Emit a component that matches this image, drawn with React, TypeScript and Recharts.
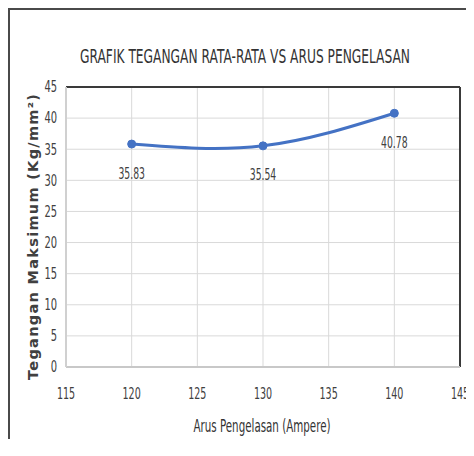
import React from 'react';
import { LineChart, Line, XAxis, YAxis, CartesianGrid, ReferenceLine, LabelList, Label } from 'recharts';

const arusPengelasan = [120, 130, 140];
const teganganMaksimum = [35.83, 35.54, 40.78];
const xTicks = [115, 120, 125, 130, 135, 140, 145];
const yTicks = [0, 5, 10, 15, 20, 25, 30, 35, 40, 45];
const chartTitle = 'GRAFIK TEGANGAN RATA-RATA VS ARUS PENGELASAN';
const xTitle = 'Arus Pengelasan (Ampere)';
const yTitle = 'Tegangan Maksimum (Kg/mm²)';

const data = arusPengelasan.map((x, i) => ({ x, y: teganganMaksimum[i] }));

const FONT = '"DejaVu Sans", sans-serif';

function NarrowText(props: { x: number; y: number; text: string | number; size: number; sx: number; anchor: 'start' | 'middle' | 'end'; fill?: string }) {
  const { x, y, text, size, sx, anchor, fill } = props;
  return (
    <text
      transform={`translate(${x},${y}) scale(${sx},1)`}
      x={0}
      y={0}
      textAnchor={anchor}
      dominantBaseline="central"
      style={{ fontFamily: FONT, fontSize: size, fill: fill || '#404040' }}
    >
      {text}
    </text>
  );
}

// Text of an exact width: drawn small, stretched to width, then scaled up vertically
function FitText(props: { x: number; y: number; text: string; width: number; size: number; sy: number; fill?: string }) {
  const { x, y, text, width, size, sy, fill } = props;
  return (
    <text
      transform={`translate(${x},${y}) scale(1,${sy})`}
      x={0}
      y={0}
      textAnchor="middle"
      dominantBaseline="central"
      textLength={width}
      lengthAdjust="spacingAndGlyphs"
      style={{ fontFamily: FONT, fontSize: size, fill: fill || '#333' }}
    >
      {text}
    </text>
  );
}

const XTick = (p: any) => (
  <NarrowText x={p.x} y={p.y + 26} text={p.payload.value} size={16.5} sx={0.58} anchor="middle" />
);

const YTick = (p: any) => (
  <NarrowText x={p.x - 9} y={p.y} text={p.payload.value} size={15.5} sx={0.64} anchor="end" />
);

const PointLabel = (p: any) => (
  <NarrowText x={p.x} y={p.y + 29} text={p.value} size={16} sx={0.58} anchor="middle" />
);

export default function App() {
  return (
    <div
      style={{
        position: 'relative',
        width: 462,
        height: 428,
        borderTop: '2px solid #4a4a4a',
        borderLeft: '2px solid #4a4a4a',
        paddingTop: 1,
        background: '#fff',
        overflow: 'hidden',
      }}
    >
      <LineChart
        width={462}
        height={427}
        data={data}
        margin={{ top: 76, right: 12, left: 0, bottom: 0 }}
      >
        <FitText x={235} y={45} text={chartTitle} width={330} size={11} sy={1.82} />
        <CartesianGrid stroke="#d9d9d9" strokeWidth={1} />
        <XAxis
          dataKey="x"
          type="number"
          domain={[115, 145]}
          ticks={xTicks}
          interval={0}
          tickLine={false}
          tickSize={0}
          tickMargin={0}
          axisLine={{ stroke: '#c8c8c8', strokeWidth: 2 }}
          tick={XTick}
          height={71}
        >
          <Label
            content={(props: any) => {
              const vb = props.viewBox || {};
              const cx = (vb.x ?? 56) + (vb.width ?? 394) / 2 - 1;
              const cy = (vb.y ?? 356) + 59;
              return <FitText x={cx} y={cy} text={xTitle} width={137} size={10} sy={1.7} />;
            }}
          />
        </XAxis>
        <YAxis
          type="number"
          domain={[0, 45]}
          ticks={yTicks}
          interval={0}
          tickLine={false}
          tickSize={0}
          tickMargin={0}
          axisLine={{ stroke: '#d0d0d0', strokeWidth: 2 }}
          tick={YTick}
          width={56}
        >
          <Label
            content={(props: any) => {
              const vb = props.viewBox || {};
              const cx = 24;
              const cy = (vb.y ?? 76) + (vb.height ?? 280) / 2 + 10;
              return (
                <text
                  x={cx}
                  y={cy}
                  transform={`rotate(-90, ${cx}, ${cy})`}
                  textAnchor="middle"
                  dominantBaseline="middle"
                  textLength={286}
                  lengthAdjust="spacing"
                  style={{ fontFamily: FONT, fontSize: 14.5, fontWeight: 'bold', fill: '#404040' }}
                >
                  {yTitle}
                </text>
              );
            }}
          />
        </YAxis>
        <ReferenceLine y={45} stroke="#3a3a3a" strokeWidth={2} ifOverflow="visible" />
        <ReferenceLine x={145} stroke="#3a3a3a" strokeWidth={2} ifOverflow="visible" />
        <Line
          type="natural"
          dataKey="y"
          stroke="#4472C4"
          strokeWidth={3}
          dot={{ r: 4, fill: '#4472C4', stroke: '#4472C4', strokeWidth: 1 }}
          isAnimationActive={false}
        >
          <LabelList dataKey="y" content={PointLabel} />
        </Line>
      </LineChart>
    </div>
  );
}
